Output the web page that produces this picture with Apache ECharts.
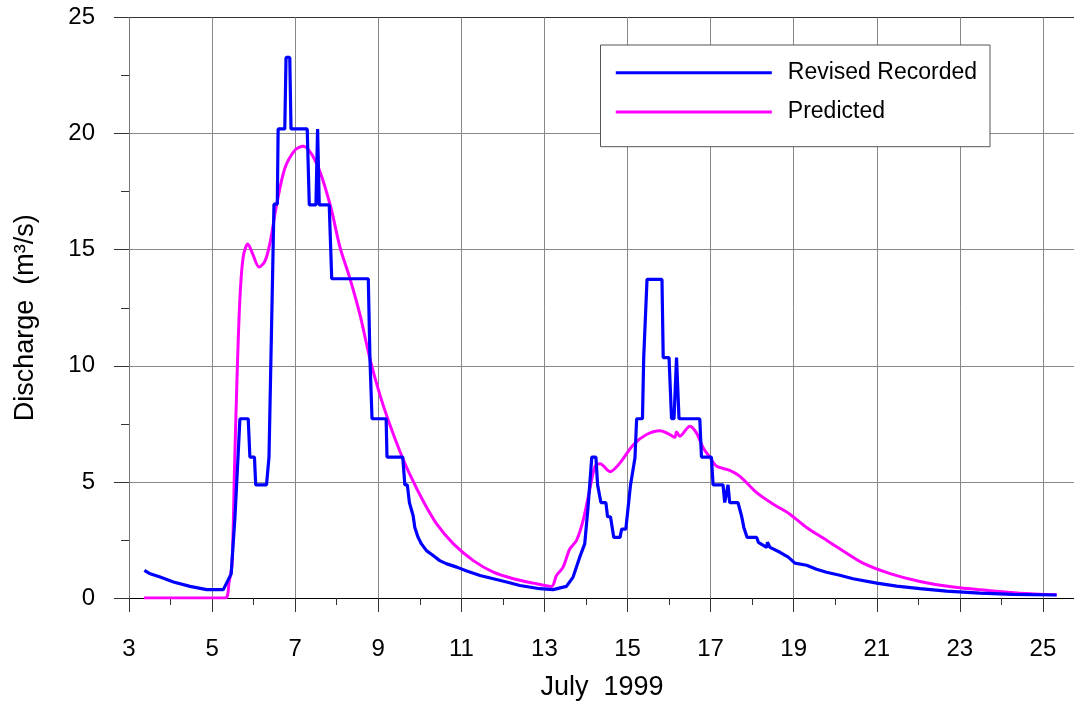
<!DOCTYPE html>
<html>
<head>
<meta charset="utf-8">
<script src="https://cdn.jsdelivr.net/npm/echarts@6/dist/echarts.min.js"></script>
<style>html,body{margin:0;padding:0;background:#fff;overflow:hidden;width:1074px;height:706px;}#c{width:1126px;height:706px;}</style>
</head>
<body>
<div id="c"></div>
<script>
const xTickLabels = ['3','5','7','9','11','13','15','17','19','21','23','25'];
const yTickLabels = ['0','5','10','15','20','25'];

const recordedDay = [3.37,3.51,3.75,4.07,4.47,4.87,5.27,5.46,5.55,5.62,5.67,5.87,5.91,6.02,6.05,6.31,6.37,6.41,6.49,6.57,6.59,6.75,6.78,6.87,6.90,7.29,7.34,7.50,7.54,7.58,7.82,7.88,8.76,8.80,8.85,9.19,9.21,9.59,9.64,9.70,9.75,9.84,9.88,9.96,10.04,10.16,10.32,10.48,10.65,10.89,11.13,11.45,11.77,12.09,12.41,12.89,13.21,13.53,13.69,13.85,13.97,14.05,14.14,14.24,14.28,14.32,14.36,14.48,14.52,14.59,14.67,14.82,14.86,14.96,15.07,15.18,15.22,15.36,15.39,15.47,15.83,15.86,16.00,16.06,16.12,16.18,16.24,16.74,16.78,17.02,17.06,17.30,17.34,17.42,17.46,17.66,17.75,17.80,17.88,18.11,18.15,18.35,18.37,18.43,18.67,18.87,19.03,19.31,19.55,19.79,20.11,20.43,21.00,21.48,22.04,22.68,23.48,24.28,25.33];
const recordedQ = [1.19,1.04,0.90,0.69,0.50,0.36,0.36,1.04,3.47,5.91,7.72,7.72,6.07,6.07,4.87,4.87,6.07,6.07,16.96,16.96,20.2,20.2,23.28,23.28,20.2,20.2,16.93,16.93,20.2,16.93,16.93,13.75,13.75,10.32,7.72,7.72,6.07,6.07,4.87,4.87,4.11,3.54,3.04,2.61,2.33,2.04,1.83,1.61,1.47,1.33,1.16,0.97,0.83,0.69,0.54,0.40,0.36,0.50,0.90,1.76,2.33,3.90,6.07,6.07,4.87,4.87,4.11,4.11,3.50,3.50,2.61,2.61,2.97,2.97,4.83,6.04,7.72,7.72,10.35,13.72,13.72,10.35,10.35,7.72,7.72,10.35,7.72,7.72,6.07,6.07,4.87,4.87,4.11,4.87,4.11,4.11,3.50,3.04,2.61,2.61,2.40,2.18,2.40,2.18,1.97,1.76,1.50,1.41,1.24,1.11,0.98,0.83,0.64,0.51,0.40,0.30,0.21,0.16,0.13];

const predictedDay = [3.36,5.31,5.41,5.48,5.54,5.60,5.67,5.75,5.86,5.98,6.13,6.27,6.39,6.55,6.75,7.00,7.19,7.52,7.84,8.08,8.32,8.56,8.80,9.04,9.28,9.52,9.76,10.08,10.41,10.81,11.29,11.77,12.25,12.73,13.17,13.29,13.45,13.61,13.77,13.93,14.10,14.22,14.34,14.58,14.82,15.14,15.46,15.78,16.02,16.14,16.18,16.26,16.50,16.66,16.82,16.98,17.14,17.46,17.70,18.11,18.51,18.91,19.31,19.71,20.11,20.67,21.32,22.04,22.84,23.64,24.44,25.33];
const predictedQ = [0,0,0.70,1.47,5.6,9.46,12.9,14.7,15.25,14.8,14.25,14.5,15.25,16.9,18.5,19.3,19.46,18.7,16.95,15.1,13.75,12.2,10.3,8.75,7.46,6.32,5.32,4.18,3.18,2.33,1.61,1.11,0.83,0.64,0.50,0.97,1.33,2.11,2.47,3.33,4.75,5.68,5.78,5.44,5.82,6.6,7.04,7.2,7.04,6.92,7.15,6.97,7.4,7.11,6.47,6.07,5.68,5.5,5.25,4.54,4.04,3.61,3.04,2.58,2.12,1.5,1.05,0.71,0.47,0.33,0.21,0.14];

const recordedData = recordedDay.map((d, i) => [d, recordedQ[i]]);
const predictedData = predictedDay.map((d, i) => [d, predictedQ[i]]);

const FONT = 'Liberation Sans, Arial, sans-serif';
const chart = echarts.init(document.getElementById('c'), null, {renderer: 'canvas'});
chart.setOption({
  animation: false,
  backgroundColor: '#ffffff',
  grid: {left: 129, top: 17.5, bottom: 105, right: 0, containLabel: false},
  legend: {
    orient: 'vertical',
    left: 600.5, top: 45,
    icon: 'rect',
    itemWidth: 156, itemHeight: 3,
    itemGap: 13.3,
    padding: [14.7, 13, 21.7, 15.3],
    backgroundColor: '#ffffff',
    borderColor: '#555555', borderWidth: 1,
    textStyle: {fontFamily: FONT, fontSize: 23, color: '#000', lineHeight: 26, padding: [0, 0, 0, 11]},
    data: ['Revised Recorded', 'Predicted']
  },
  xAxis: {
    type: 'value', min: 3, max: 27, interval: 2,
    name: 'July  1999', nameLocation: 'middle', nameGap: 76,
    nameTextStyle: {fontFamily: FONT, fontSize: 27, color: '#000', padding: [0, 51, 0, 0]},
    axisLine: {show: true, onZero: false, lineStyle: {color: '#000', width: 1.2}},
    axisTick: {show: true, length: 14, lineStyle: {color: '#333'}},
    minorTick: {show: true, splitNumber: 2, length: 7, lineStyle: {color: '#333'}},
    axisLabel: {fontFamily: FONT, fontSize: 24, color: '#000', margin: 39, showMaxLabel: false,
      formatter: v => xTickLabels.indexOf(String(v)) >= 0 ? String(v) : ''},
    splitLine: {show: true, lineStyle: {color: '#888888', width: 1}}
  },
  yAxis: {
    type: 'value', min: 0, max: 25, interval: 5,
    name: 'Discharge  (m³/s)', nameLocation: 'middle', nameGap: 90, nameRotate: 90,
    nameTextStyle: {fontFamily: FONT, fontSize: 27, color: '#000', padding: [0, 20, 0, 0]},
    axisLine: {show: true, lineStyle: {color: '#777', width: 1}},
    axisTick: {show: true, length: 15, lineStyle: {color: '#333'}},
    minorTick: {show: true, splitNumber: 2, length: 8, lineStyle: {color: '#333'}},
    axisLabel: {fontFamily: FONT, fontSize: 24, color: '#000', margin: 34,
      formatter: v => yTickLabels.indexOf(String(v)) >= 0 ? String(v) : ''},
    splitLine: {show: true, lineStyle: {color: ['#888888','#888888','#888888','#888888','#888888','#333333'], width: 1}}
  },
  series: [
    {
      name: 'Revised Recorded', type: 'line', data: recordedData,
      symbol: 'none', smooth: false,
      lineStyle: {color: '#0000ff', width: 3.2}, itemStyle: {color: '#0000ff'}, z: 3
    },
    {
      name: 'Predicted', type: 'line', data: predictedData,
      symbol: 'none', smooth: 0.3,
      lineStyle: {color: '#ff00ff', width: 3}, itemStyle: {color: '#ff00ff'}, z: 2
    }
  ]
});
</script>
</body>
</html>
